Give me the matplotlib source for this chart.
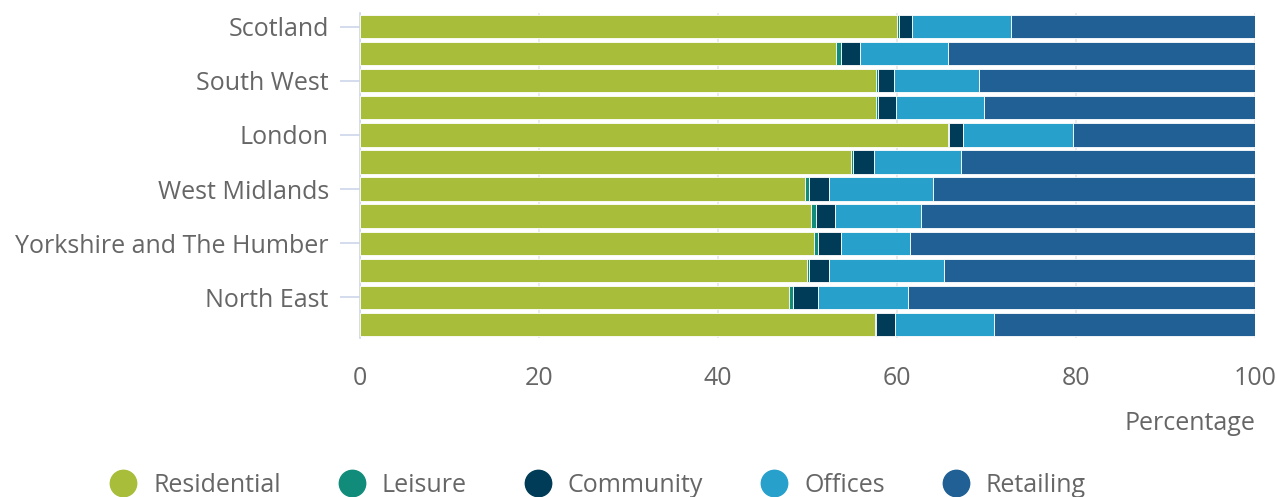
import matplotlib
matplotlib.use("Agg")
import matplotlib.pyplot as plt
from matplotlib.lines import Line2D
import numpy as np

# Share of floorspace by use, per region (percent)
regions = ["Scotland", "Wales", "South West", "South East", "London",
           "East of England", "West Midlands", "East Midlands",
           "Yorkshire and The Humber", "North West", "North East", "Great Britain"]
residential = [60.0, 53.2, 57.6, 57.6, 65.7, 54.9, 49.7, 50.4, 50.7, 49.9, 47.9, 57.5]
leisure     = [0.2, 0.5, 0.3, 0.3, 0.1, 0.2, 0.5, 0.5, 0.5, 0.3, 0.5, 0.2]
community   = [1.5, 2.2, 1.8, 2.0, 1.6, 2.3, 2.2, 2.2, 2.5, 2.2, 2.8, 2.1]
offices     = [11.0, 9.8, 9.5, 9.8, 12.3, 9.8, 11.6, 9.6, 7.8, 12.8, 10.0, 11.0]
retailing   = [27.3, 34.3, 30.8, 30.3, 20.3, 32.8, 36.0, 37.3, 38.5, 34.8, 38.8, 29.2]

series = ["Residential", "Leisure", "Community", "Offices", "Retailing"]
colours = ["#a8bd3a", "#118c7b", "#003c57", "#27a0cc", "#206095"]
grey = "#666666"
fs = 18

plt.rcParams['font.family'] = ['Open Sans', 'DejaVu Sans']

fig = plt.figure(figsize=(12.77, 4.97), dpi=100)
ax = fig.add_axes([360 / 1277, 159 / 497, 895 / 1277, 325 / 497])

y = np.arange(len(regions))
left = np.zeros(len(regions))
for vals, col in zip([residential, leisure, community, offices, retailing], colours):
    ax.barh(y, vals, left=left, height=0.86, color=col, edgecolor="white",
            linewidth=0.6, zorder=3)
    left += np.array(vals)

ax.set_xlim(0, 100)
ax.set_ylim(len(regions) - 0.5, -0.5)
ax.set_xticks([0, 20, 40, 60, 80, 100])
ax.grid(axis="x", color="#e6e6e6", linewidth=1.2, zorder=0)

# only every other region gets a label
ax.set_yticks(y[::2])
ax.set_yticklabels(regions[::2])

ax.tick_params(axis="x", length=0, pad=20, labelsize=fs, labelcolor=grey)
ax.tick_params(axis="y", length=14.5, width=1.2, color="#ccd6eb", pad=8,
               labelsize=fs, labelcolor=grey)
for s in ["top", "right", "bottom"]:
    ax.spines[s].set_visible(False)
ax.spines["left"].set_color("#ccd6eb")
ax.spines["left"].set_linewidth(1.2)

fig.text(1255 / 1277, 1 - 424 / 497, "Percentage", ha="right", va="center",
         fontsize=fs, color=grey)

handles = [Line2D([], [], marker="o", linestyle="none", markersize=19,
                  markerfacecolor=c, markeredgecolor=c) for c in colours]
fig.legend(handles, series, loc="center", bbox_to_anchor=(592 / 1277, 1 - 485 / 497),
           ncol=5, frameon=False, fontsize=fs, labelcolor=grey,
           handletextpad=0.2, columnspacing=1.84)

fig.savefig("out.png", dpi=100)
